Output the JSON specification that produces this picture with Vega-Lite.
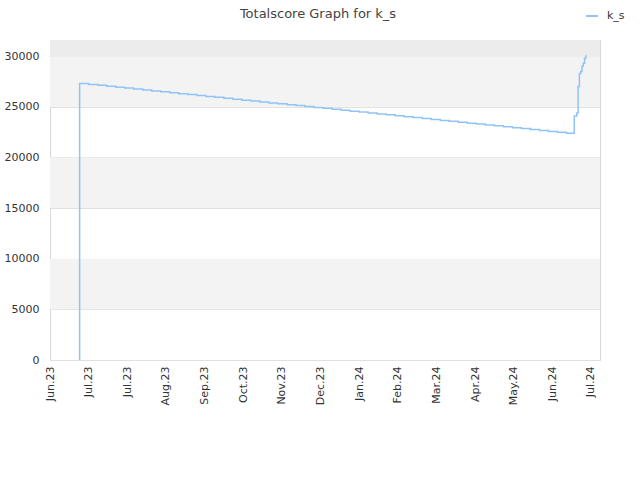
{
  "$schema": "https://vega.github.io/schema/vega-lite/v6.json",
  "width": 550,
  "height": 320,
  "autosize": "none",
  "padding": {"left": 50, "top": 40, "right": 40, "bottom": 120},
  "background": "white",
  "config": {
    "font": "DejaVu Sans",
    "view": {"stroke": "#d9d9d9", "strokeWidth": 1}
  },
  "title": {
    "text": "Totalscore Graph for k_s",
    "fontSize": 13,
    "fontWeight": "normal",
    "color": "#444444",
    "font": "DejaVu Sans",
    "anchor": "middle",
    "offset": -12,
    "dx": -7
  },
  "datasets": {
    "score": [
      {"date": "2023-06-24", "score": 0, "series": "k_s"},
      {"date": "2023-06-24", "score": 27300, "series": "k_s"},
      {"date": "2023-07-01", "score": 27210, "series": "k_s"},
      {"date": "2023-07-08", "score": 27120, "series": "k_s"},
      {"date": "2023-07-15", "score": 27030, "series": "k_s"},
      {"date": "2023-07-22", "score": 26940, "series": "k_s"},
      {"date": "2023-07-29", "score": 26850, "series": "k_s"},
      {"date": "2023-08-05", "score": 26750, "series": "k_s"},
      {"date": "2023-08-12", "score": 26660, "series": "k_s"},
      {"date": "2023-08-19", "score": 26570, "series": "k_s"},
      {"date": "2023-08-26", "score": 26480, "series": "k_s"},
      {"date": "2023-09-02", "score": 26390, "series": "k_s"},
      {"date": "2023-09-09", "score": 26300, "series": "k_s"},
      {"date": "2023-09-16", "score": 26210, "series": "k_s"},
      {"date": "2023-09-23", "score": 26120, "series": "k_s"},
      {"date": "2023-09-30", "score": 26030, "series": "k_s"},
      {"date": "2023-10-07", "score": 25940, "series": "k_s"},
      {"date": "2023-10-14", "score": 25850, "series": "k_s"},
      {"date": "2023-10-21", "score": 25750, "series": "k_s"},
      {"date": "2023-10-28", "score": 25660, "series": "k_s"},
      {"date": "2023-11-04", "score": 25570, "series": "k_s"},
      {"date": "2023-11-11", "score": 25480, "series": "k_s"},
      {"date": "2023-11-18", "score": 25390, "series": "k_s"},
      {"date": "2023-11-25", "score": 25300, "series": "k_s"},
      {"date": "2023-12-02", "score": 25210, "series": "k_s"},
      {"date": "2023-12-09", "score": 25120, "series": "k_s"},
      {"date": "2023-12-16", "score": 25030, "series": "k_s"},
      {"date": "2023-12-23", "score": 24940, "series": "k_s"},
      {"date": "2023-12-30", "score": 24850, "series": "k_s"},
      {"date": "2024-01-06", "score": 24750, "series": "k_s"},
      {"date": "2024-01-13", "score": 24660, "series": "k_s"},
      {"date": "2024-01-20", "score": 24570, "series": "k_s"},
      {"date": "2024-01-27", "score": 24480, "series": "k_s"},
      {"date": "2024-02-03", "score": 24390, "series": "k_s"},
      {"date": "2024-02-10", "score": 24300, "series": "k_s"},
      {"date": "2024-02-17", "score": 24210, "series": "k_s"},
      {"date": "2024-02-24", "score": 24120, "series": "k_s"},
      {"date": "2024-03-02", "score": 24030, "series": "k_s"},
      {"date": "2024-03-09", "score": 23940, "series": "k_s"},
      {"date": "2024-03-16", "score": 23850, "series": "k_s"},
      {"date": "2024-03-23", "score": 23750, "series": "k_s"},
      {"date": "2024-03-30", "score": 23660, "series": "k_s"},
      {"date": "2024-04-06", "score": 23570, "series": "k_s"},
      {"date": "2024-04-13", "score": 23480, "series": "k_s"},
      {"date": "2024-04-20", "score": 23390, "series": "k_s"},
      {"date": "2024-04-27", "score": 23300, "series": "k_s"},
      {"date": "2024-05-04", "score": 23210, "series": "k_s"},
      {"date": "2024-05-11", "score": 23120, "series": "k_s"},
      {"date": "2024-05-18", "score": 23030, "series": "k_s"},
      {"date": "2024-05-25", "score": 22940, "series": "k_s"},
      {"date": "2024-06-01", "score": 22850, "series": "k_s"},
      {"date": "2024-06-08", "score": 22750, "series": "k_s"},
      {"date": "2024-06-15", "score": 22660, "series": "k_s"},
      {"date": "2024-06-22", "score": 22570, "series": "k_s"},
      {"date": "2024-06-29", "score": 22480, "series": "k_s"},
      {"date": "2024-07-06", "score": 22390, "series": "k_s"},
      {"date": "2024-07-12", "score": 24100, "series": "k_s"},
      {"date": "2024-07-14", "score": 24400, "series": "k_s"},
      {"date": "2024-07-15", "score": 27000, "series": "k_s"},
      {"date": "2024-07-16", "score": 28300, "series": "k_s"},
      {"date": "2024-07-17", "score": 28500, "series": "k_s"},
      {"date": "2024-07-18", "score": 29000, "series": "k_s"},
      {"date": "2024-07-19", "score": 29300, "series": "k_s"},
      {"date": "2024-07-20", "score": 29800, "series": "k_s"},
      {"date": "2024-07-21", "score": 30100, "series": "k_s"}
    ],
    "lightBands": [
      {"from": 5000, "to": 10000},
      {"from": 15000, "to": 20000},
      {"from": 25000, "to": 30000}
    ],
    "darkBands": [
      {"from": 30000, "to": 31600}
    ]
  },
  "layer": [
    {
      "data": {"name": "lightBands"},
      "mark": {"type": "rect", "color": "#f3f3f3"},
      "encoding": {
        "y": {"field": "from", "type": "quantitative", "scale": {"domain": [0, 31600], "nice": false, "zero": true}},
        "y2": {"field": "to"}
      }
    },
    {
      "data": {"name": "darkBands"},
      "mark": {"type": "rect", "color": "#ececec"},
      "encoding": {
        "y": {"field": "from", "type": "quantitative"},
        "y2": {"field": "to"}
      }
    },
    {
      "data": {"name": "score"},
      "mark": {"type": "line", "interpolate": "step-after", "strokeWidth": 1.5, "clip": true},
      "encoding": {
        "x": {
          "field": "date",
          "type": "temporal",
          "scale": {
            "type": "utc",
            "domain": [
              {"year": 2023, "month": 6, "date": 1, "utc": true},
              {"year": 2024, "month": 8, "date": 1, "utc": true}
            ]
          },
          "axis": {
            "title": null,
            "labelExpr": "utcFormat(datum.value, '%b.%y')",
            "labelAngle": -90,
            "labelFontSize": 11,
            "labelColor": "#333333",
            "labelPadding": 6,
            "ticks": false,
            "domain": false,
            "grid": false,
            "labelOverlap": false,
            "labelFlush": false,
            "values": [
              {"year": 2023, "month": 6, "date": 1, "utc": true},
              {"year": 2023, "month": 7, "date": 1, "utc": true},
              {"year": 2023, "month": 7, "date": 31, "utc": true},
              {"year": 2023, "month": 8, "date": 30, "utc": true},
              {"year": 2023, "month": 9, "date": 29, "utc": true},
              {"year": 2023, "month": 10, "date": 29, "utc": true},
              {"year": 2023, "month": 11, "date": 28, "utc": true},
              {"year": 2023, "month": 12, "date": 28, "utc": true},
              {"year": 2024, "month": 1, "date": 27, "utc": true},
              {"year": 2024, "month": 2, "date": 26, "utc": true},
              {"year": 2024, "month": 3, "date": 27, "utc": true},
              {"year": 2024, "month": 4, "date": 26, "utc": true},
              {"year": 2024, "month": 5, "date": 26, "utc": true},
              {"year": 2024, "month": 6, "date": 25, "utc": true},
              {"year": 2024, "month": 7, "date": 25, "utc": true}
            ]
          }
        },
        "y": {
          "field": "score",
          "type": "quantitative",
          "axis": {
            "title": null,
            "values": [0, 5000, 10000, 15000, 20000, 25000, 30000],
            "format": "d",
            "labelFontSize": 11,
            "labelColor": "#333333",
            "labelPadding": 11,
            "ticks": false,
            "domain": false,
            "grid": true,
            "gridColor": "#e0e0e0",
            "gridWidth": 1
          }
        },
        "color": {
          "field": "series",
          "type": "nominal",
          "scale": {"domain": ["k_s"], "range": ["#90c4f8"]},
          "legend": {
            "title": null,
            "orient": "none",
            "legendX": 535,
            "legendY": -31,
            "symbolType": "stroke",
            "symbolStrokeWidth": 2,
            "symbolSize": 140,
            "labelOffset": 8,
            "labelFontSize": 11,
            "labelColor": "#333333"
          }
        }
      }
    }
  ]
}
